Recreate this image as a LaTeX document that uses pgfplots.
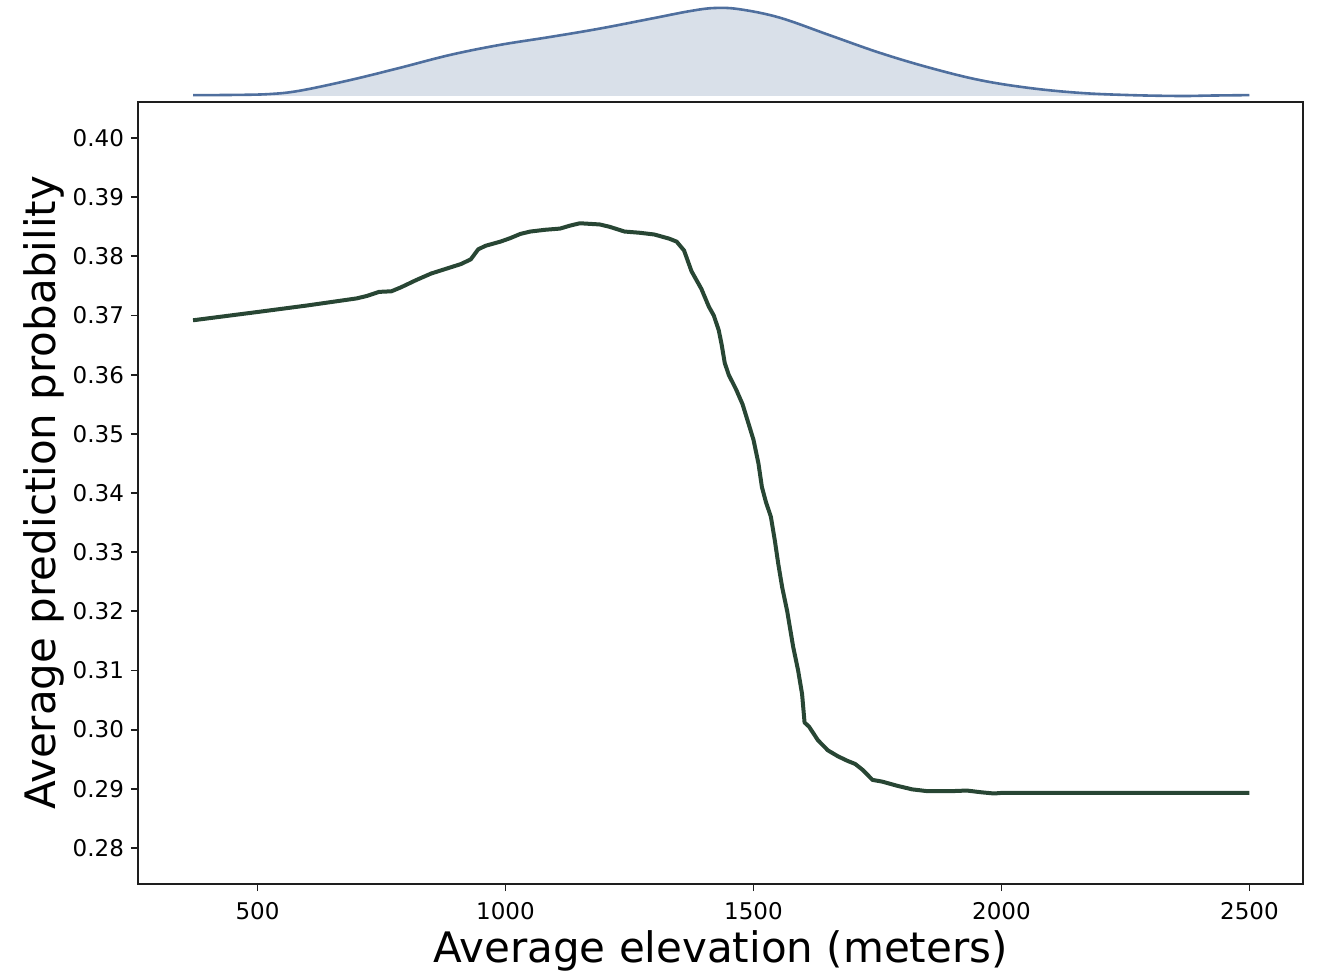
\documentclass[border=0pt]{standalone}
\usepackage{fontspec}
\setmainfont{DejaVu Sans}
\usepackage{pgfplots}
\pgfplotsset{compat=1.18}
\definecolor{mainline}{HTML}{284634}
\definecolor{densline}{HTML}{4F6F9E}
\definecolor{densfill}{HTML}{D9E0E9}
\definecolor{frame}{HTML}{1E1E1E}
\begin{document}
\begin{tikzpicture}
\path[use as bounding box] (-69pt,-46pt) rectangle (589.5pt,442pt);
\begin{axis}[
  at={(0,0)}, anchor=south west,
  width=582.5pt, height=391pt, scale only axis,
  xmin=259, xmax=2608, ymin=0.2739, ymax=0.4061,
  xtick={500,1000,1500,2000,2500},
  ytick={0.28,0.29,0.30,0.31,0.32,0.33,0.34,0.35,0.36,0.37,0.38,0.39,0.40},
  yticklabel style={/pgf/number format/.cd, fixed, fixed zerofill, precision=2},
  /pgf/number format/assume math mode=true,
  scaled y ticks=false,
  xticklabel style={yshift=-2pt, /pgf/number format/.cd, 1000 sep={}},
  tick align=outside, tick pos=left,
  major tick length=3.5pt,
  every tick/.style={frame, line width=0.9pt},
  axis line style={frame, line width=1pt},
  ticklabel style={font=\fontsize{11.5}{13}\selectfont},
  xlabel={Average elevation (meters)},
  ylabel={Average prediction probability},
  every axis x label/.style={at={(axis description cs:0.5,-0.101)}, anchor=base, font=\fontsize{21}{24}\selectfont},
  every axis y label/.style={at={(axis description cs:-0.0704,0.5)}, rotate=90, anchor=base, font=\fontsize{21}{24}\selectfont},
]
\addplot[mainline, line width=2pt, line join=round] coordinates {
(370,0.3692) (500,0.3706) (600,0.3717) (700,0.3729) (720,0.3733) (745,0.3740)
(770,0.3741) (790,0.3748) (820,0.3760) (850,0.3771) (880,0.3779) (910,0.3787)
(930,0.3795) (945,0.3812) (960,0.3818) (990,0.3825) (1010,0.3831) (1030,0.3838)
(1050,0.3842) (1080,0.3845) (1110,0.3847) (1130,0.3852) (1150,0.3856) (1170,0.3855)
(1190,0.3854) (1210,0.3850) (1240,0.3842) (1270,0.3840) (1300,0.3837) (1330,0.3830)
(1345,0.3825) (1360,0.3810) (1375,0.3775) (1395,0.3745) (1410,0.3715) (1420,0.3700)
(1430,0.3675) (1436,0.3650) (1442,0.3620) (1450,0.3600) (1465,0.3575) (1478,0.3550)
(1489,0.3520) (1500,0.3490) (1510,0.3450) (1517,0.3410) (1525,0.3385) (1535,0.3360)
(1543,0.3320) (1550,0.3280) (1558,0.3240) (1568,0.3200) (1580,0.3140) (1590,0.3100)
(1598,0.3060) (1603,0.3012) (1612,0.3005) (1630,0.2982) (1650,0.2965) (1670,0.2955)
(1690,0.2947) (1705,0.2942) (1720,0.2932) (1740,0.2915) (1760,0.2912) (1790,0.2905)
(1820,0.2899) (1850,0.2896) (1900,0.2896) (1930,0.2897) (1960,0.2894) (1985,0.2892)
(2000,0.2893) (2100,0.2893) (2200,0.2893) (2300,0.2893) (2400,0.2893) (2500,0.2893)
};
\draw[frame, line width=1pt] (rel axis cs:0,1) -- (rel axis cs:1,1) -- (rel axis cs:1,0);
\end{axis}
\begin{axis}[
  at={(0,394pt)}, anchor=south west,
  width=582.5pt, height=44pt, scale only axis,
  xmin=259, xmax=2608, ymin=0, ymax=1,
  hide axis, clip=false,
]
\addplot[fill=densfill, draw=none, smooth, tension=0.6] coordinates {
(370,0.01) (450,0.012) (524,0.022) (585,0.06) (686,0.18) (787,0.32) (887,0.465) (988,0.58)
(1089,0.67) (1189,0.765) (1290,0.875) (1372,0.965) (1422,1.0) (1473,0.985) (1553,0.89)
(1654,0.69) (1755,0.49) (1856,0.32) (1957,0.18) (2058,0.09) (2159,0.035) (2260,0.01)
(2361,0.0) (2421,0.005) (2500,0.01)
} \closedcycle;
\addplot[densline, line width=1.3pt, smooth, tension=0.6] coordinates {
(370,0.01) (450,0.012) (524,0.022) (585,0.06) (686,0.18) (787,0.32) (887,0.465) (988,0.58)
(1089,0.67) (1189,0.765) (1290,0.875) (1372,0.965) (1422,1.0) (1473,0.985) (1553,0.89)
(1654,0.69) (1755,0.49) (1856,0.32) (1957,0.18) (2058,0.09) (2159,0.035) (2260,0.01)
(2361,0.0) (2421,0.005) (2500,0.01)
};
\end{axis}
\end{tikzpicture}
\end{document}
